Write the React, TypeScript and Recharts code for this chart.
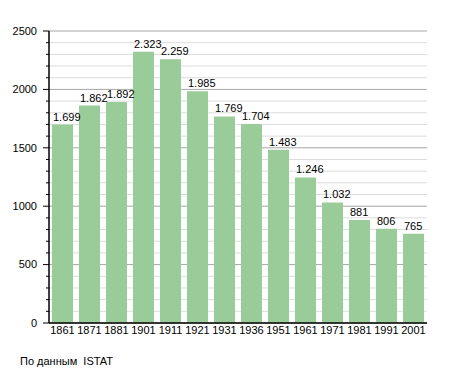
import React from "react";
import { BarChart, Bar, XAxis, YAxis, CartesianGrid, LabelList } from "recharts";

const years = ["1861", "1871", "1881", "1901", "1911", "1921", "1931", "1936", "1951", "1961", "1971", "1981", "1991", "2001"];
const population = [1699, 1862, 1892, 2323, 2259, 1985, 1769, 1704, 1483, 1246, 1032, 881, 806, 765];
const majorTicks = [0, 500, 1000, 1500, 2000, 2500];
const minorTicks = [
  100, 200, 300, 400, 600, 700, 800, 900, 1100, 1200, 1300, 1400, 1600, 1700, 1800, 1900,
  2100, 2200, 2300, 2400,
];
const allTicks = [...majorTicks, ...minorTicks].sort((a, b) => a - b);
const sourceNote = "По данным  ISTAT";

const data = years.map((y, i) => ({ year: y, value: population[i] }));

const fmt = (v: number) => String(v).replace(/\B(?=(\d{3})+(?!\d))/g, ".");

const FONT = "'Liberation Sans', Arial, sans-serif";

const YTick = (props: any) => {
  const { x, y, payload } = props;
  const v = payload.value as number;
  const major = v % 500 === 0;
  return (
    <g>
      <line x1={x - (major ? 6 : 3)} x2={x} y1={y} y2={y} stroke="#000" strokeWidth={1} />
      {major && (
        <text x={x - 12} y={y} dy="0.35em" textAnchor="end" fontSize={11} fontFamily={FONT} fill="#000">
          {v}
        </text>
      )}
    </g>
  );
};

const ValueLabel = (props: any) => {
  const { x, y, value } = props;
  return (
    <text x={x + 1} y={y - 4} textAnchor="start" fontSize={11} fontFamily={FONT} fill="#000">
      {fmt(value)}
    </text>
  );
};

export default function App() {
  return (
    <div style={{ position: "absolute", left: 0, top: 0, width: 455, height: 373, background: "#fff" }}>
      <BarChart
        width={455}
        height={373}
        data={data}
        margin={{ top: 31, right: 28, left: 0, bottom: 20 }}
        barSize={21}
      >
        <CartesianGrid vertical={false} horizontalValues={minorTicks} stroke="#dcdcdc" strokeWidth={1} />
        <CartesianGrid vertical={false} horizontalValues={majorTicks} stroke="#a6a6a6" strokeWidth={1} />
        <XAxis
          dataKey="year"
          tickLine={false}
          axisLine={{ stroke: "#000", strokeWidth: 1.5 }}
          tickSize={0}
          tickMargin={3}
          height={30}
          interval={0}
          tick={{ fontSize: 11, fontFamily: FONT, fill: "#000" }}
        />
        <YAxis
          type="number"
          domain={[0, 2500]}
          ticks={allTicks}
          interval={0}
          width={49}
          tickLine={false}
          tickSize={0}
          tickMargin={0}
          axisLine={{ stroke: "#000", strokeWidth: 1.5 }}
          tick={<YTick />}
        />
        <Bar dataKey="value" fill="#99cc99" isAnimationActive={false}>
          <LabelList dataKey="value" content={<ValueLabel />} />
        </Bar>
      </BarChart>
      <div
        style={{
          position: "absolute",
          left: 20,
          top: 355,
          fontFamily: FONT,
          fontSize: 11,
          color: "#000",
          whiteSpace: "pre",
          lineHeight: "13px",
        }}
      >
        {sourceNote}
      </div>
    </div>
  );
}
